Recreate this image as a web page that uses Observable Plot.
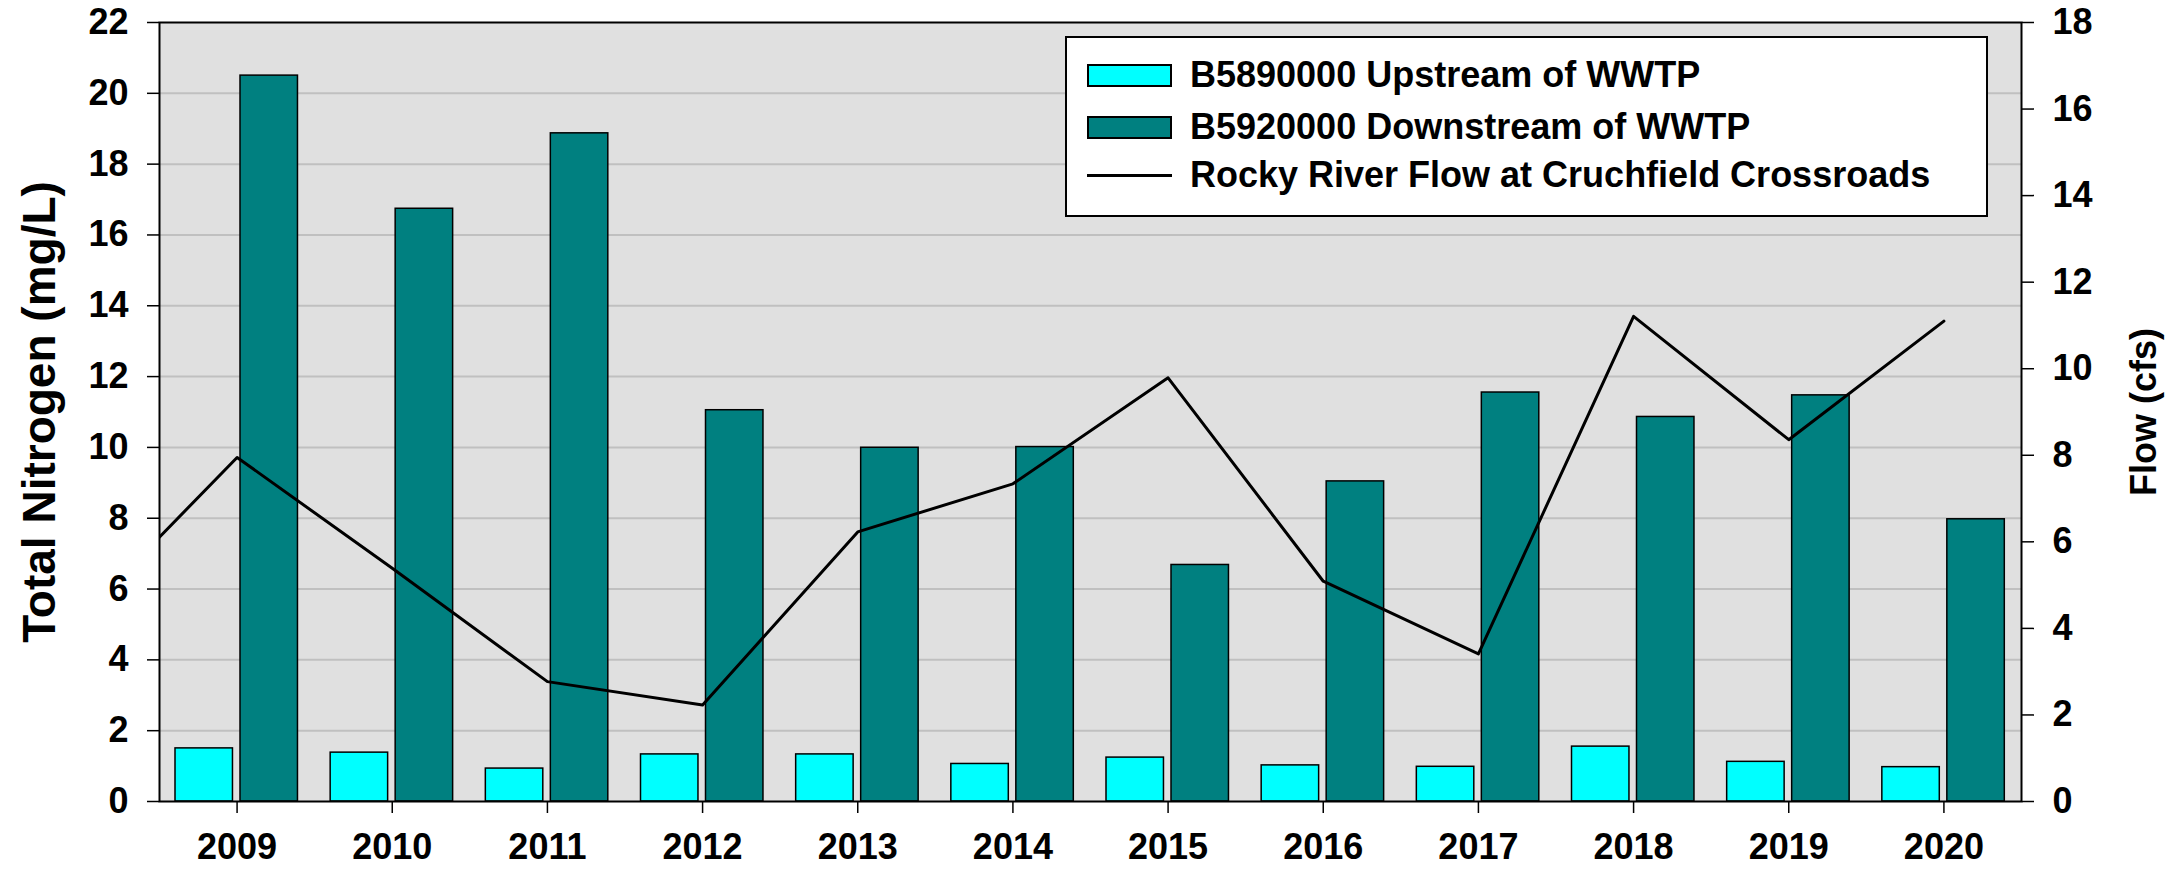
<!DOCTYPE html>
<html>
<head>
<meta charset="utf-8">
<script src="https://cdn.jsdelivr.net/npm/d3@7"></script>
<script src="https://cdn.jsdelivr.net/npm/@observablehq/plot@0.6"></script>
<style>
  body { margin: 0; background: #fff; }
  #wrap { position: relative; width: 2183px; height: 872px; font-family: "Liberation Sans", Arial, sans-serif; font-weight: bold; }
  #legend { position: absolute; left: 1065px; top: 36px; width: 919px; height: 177px; border: 2px solid #000; background: #fff; }
  .row { position: absolute; left: 20px; height: 50px; display: flex; align-items: center; font-size: 36px; color: #000; white-space: nowrap; }
  .sw { width: 81px; height: 19px; border: 2px solid #000; margin-right: 18px; }
  .ln { width: 85px; height: 3px; background: #000; margin-right: 18px; }
</style>
</head>
<body>
<div id="wrap"><div id="chart"></div><div id="legend"></div></div>
<script>
// ---- data ----
const years = [2009, 2010, 2011, 2012, 2013, 2014, 2015, 2016, 2017, 2018, 2019, 2020];
const upstream = [1.50, 1.38, 0.93, 1.33, 1.33, 1.06, 1.24, 1.02, 0.98, 1.55, 1.12, 0.97];
const downstream = [20.5, 16.74, 18.87, 11.05, 9.99, 10.01, 6.68, 9.04, 11.55, 10.86, 11.47, 7.97];
const flowYears = [2008, 2009, 2010, 2011, 2012, 2013, 2014, 2015, 2016, 2017, 2018, 2019, 2020];
const flow = [4.27, 7.95, 5.39, 2.77, 2.23, 6.23, 7.34, 9.79, 5.09, 3.41, 11.21, 8.36, 11.10];
const nitrogenTicks = [0, 2, 4, 6, 8, 10, 12, 14, 16, 18, 20, 22];
const flowTicks = [0, 2, 4, 6, 8, 10, 12, 14, 16, 18];
const seriesNames = ["B5890000 Upstream of WWTP", "B5920000 Downstream of WWTP", "Rocky River Flow at Cruchfield Crossroads"];
const leftTitle = "Total Nitrogen (mg/L)";
const rightTitle = "Flow (cfs)";

const nMax = nitrogenTicks[nitrogenTicks.length - 1];
const fMax = flowTicks[flowTicks.length - 1];
const k = nMax / fMax;

const bars = years.map((year, i) => ({year, up: upstream[i], down: downstream[i]}));
const flowData = flowYears.map((year, i) => ({year, flow: flow[i]}));

const font = '"Liberation Sans", Arial, sans-serif';
const axisStyle = {fontSize: 36, fontWeight: "bold", fontFamily: font, tickSize: 12, strokeWidth: 1.5, stroke: "black", fill: "black", label: null};

const chart = Plot.plot({
  width: 2183,
  height: 872,
  marginLeft: 159,
  marginRight: 162,
  marginTop: 22,
  marginBottom: 71,
  style: {fontFamily: font, fontWeight: "bold", fontSize: "36px", background: "white", color: "black", overflow: "visible"},
  x: {type: "linear", domain: [years[0] - 0.5, years[years.length - 1] + 0.5]},
  y: {domain: [0, nMax]},
  marks: [
    Plot.frame({fill: "#E0E0E0", stroke: null}),
    Plot.ruleY(nitrogenTicks.filter(t => t > 0 && t < nMax), {stroke: "#C0C0C0", strokeWidth: 2}),
    Plot.rect(bars, {x1: d => d.year - 0.5, x2: d => d.year + 0.5, y1: 0, y2: "up",
      fill: "#00FFFF", stroke: "black", strokeWidth: 1.5, insetLeft: 16, insetRight: 81.7}),
    Plot.rect(bars, {x1: d => d.year - 0.5, x2: d => d.year + 0.5, y1: 0, y2: "down",
      fill: "#008080", stroke: "black", strokeWidth: 1.5, insetLeft: 81, insetRight: 16.7}),
    Plot.line(flowData, {x: "year", y: d => d.flow * k, stroke: "black", strokeWidth: 3, clip: true}),
    Plot.frame({stroke: "black", strokeWidth: 2}),
    Plot.axisX({...axisStyle, ticks: years, tickFormat: d => String(d), tickPadding: 20}),
    Plot.axisY({...axisStyle, ticks: nitrogenTicks, tickFormat: d => String(d), tickPadding: 19}),
    Plot.axisY({...axisStyle, anchor: "right", ticks: flowTicks.map(t => t * k),
      tickFormat: t => String(Math.round(t / k)), tickPadding: 19}),
    Plot.text([leftTitle], {text: d => d, frameAnchor: "left", textAnchor: "middle", lineAnchor: "middle",
      rotate: -90, dx: -119, fontSize: 46, fontWeight: "bold", fontFamily: font, fill: "black"}),
    Plot.text([rightTitle], {text: d => d, frameAnchor: "right", textAnchor: "middle", lineAnchor: "middle",
      rotate: -90, dx: 123, fontSize: 36, fontWeight: "bold", fontFamily: font, fill: "black"})
  ]
});
document.getElementById("chart").appendChild(chart);

// ---- legend (overlay inside plot area) ----
const legend = document.getElementById("legend");
const swatches = [{cls: "sw", color: "#00FFFF"}, {cls: "sw", color: "#008080"}, {cls: "ln", color: "#000"}];
const rowTops = [12, 64, 112];
seriesNames.forEach((name, i) => {
  const row = document.createElement("div");
  row.className = "row";
  row.style.top = rowTops[i] + "px";
  const sw = document.createElement("div");
  sw.className = swatches[i].cls;
  sw.style.background = swatches[i].color;
  const label = document.createElement("span");
  label.textContent = name;
  row.appendChild(sw);
  row.appendChild(label);
  legend.appendChild(row);
});
</script>
</body>
</html>
